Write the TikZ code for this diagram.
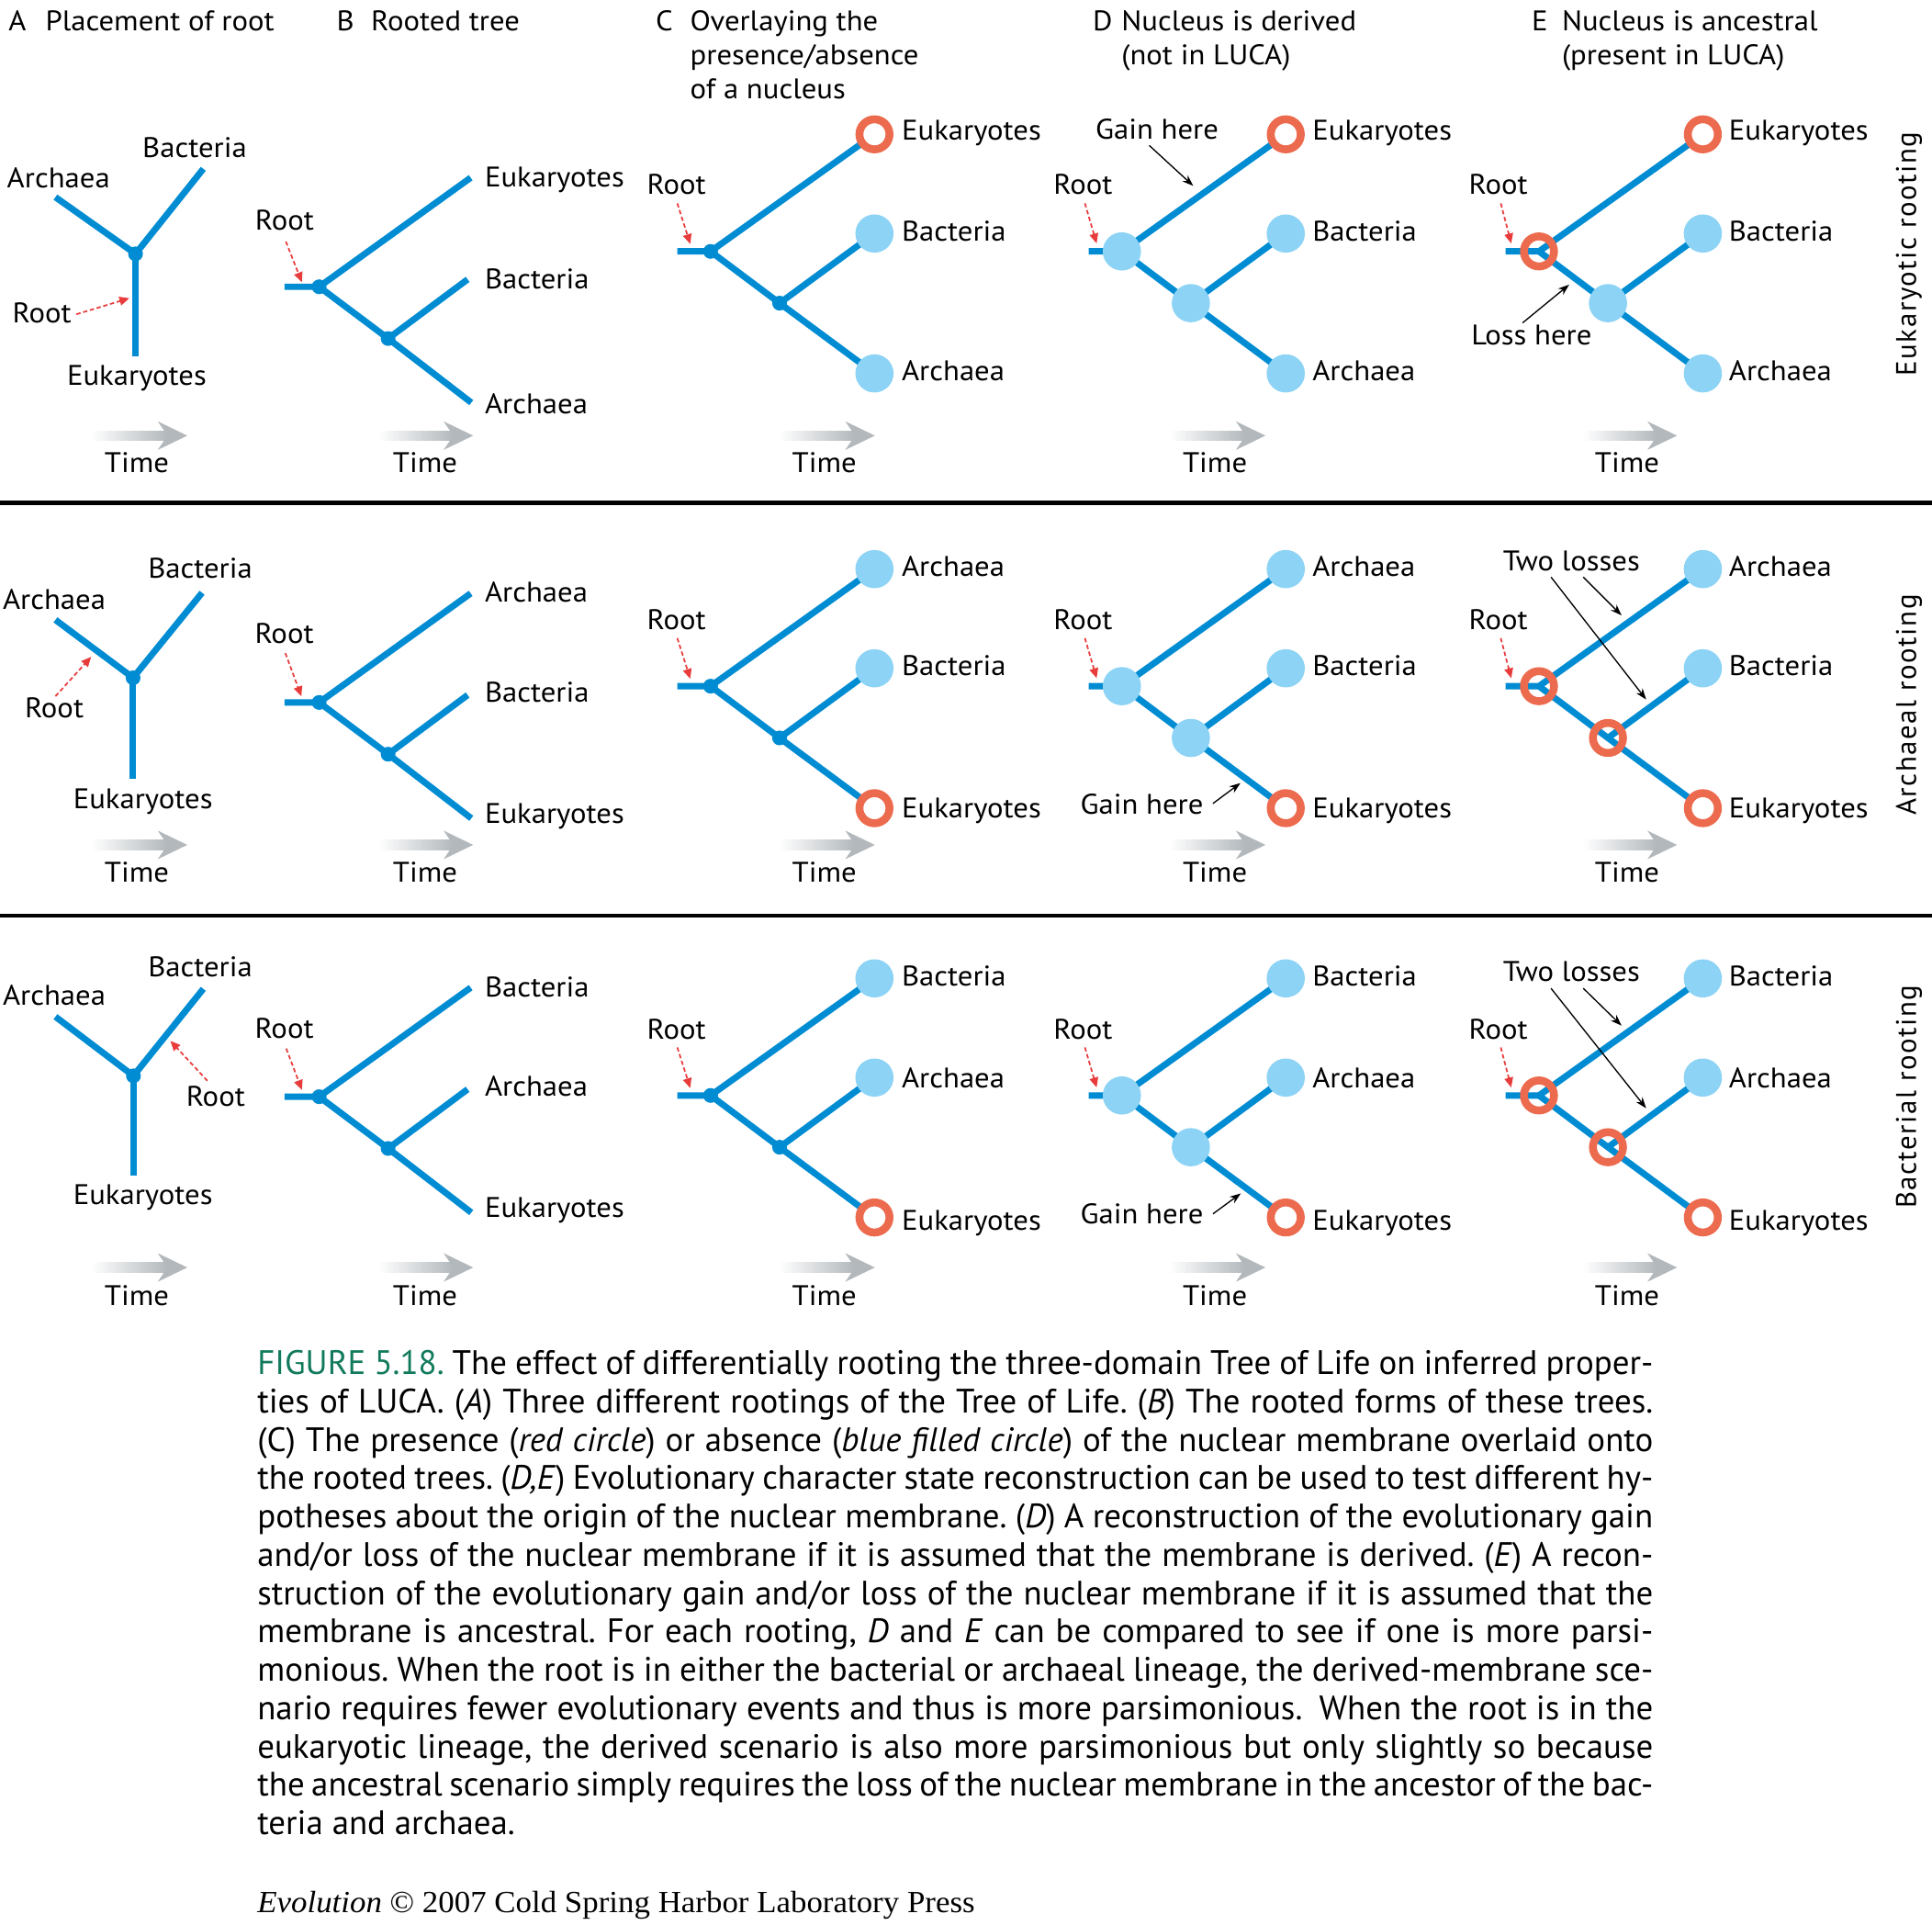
\documentclass[tikz,border=0pt]{standalone}
\usepackage{fontspec}
\setmainfont{PT Sans}
\newfontfamily\capfont{PT Sans}
\newfontfamily\lblfam{PT Sans}[FakeStretch=1.06]
\newfontfamily\rotfam{PT Sans}[LetterSpace=5]
\newfontfamily\footfont{Liberation Serif}[FakeStretch=1.04]
\usetikzlibrary{arrows.meta}
\definecolor{branch}{RGB}{0,140,210}
\definecolor{leaf}{RGB}{140,211,245}
\definecolor{ring}{RGB}{236,106,78}
\definecolor{rootred}{RGB}{232,60,60}
\definecolor{timegrey}{RGB}{178,184,188}
\definecolor{figgreen}{RGB}{18,122,92}
\newcommand\lblfont{\lblfam\fontsize{23}{27}\selectfont}
\newcommand\capfnt{\capfont\fontsize{27.5}{31}\selectfont\frenchspacing}
\newcommand\rotfnt{\rotfam\fontsize{23}{27}\selectfont}
\tikzset{
 br/.style={draw=branch, line width=5.2pt, line join=round},
 lbl/.style={font=\lblfont, inner sep=0pt, anchor=base west},
 lblc/.style={font=\lblfont, inner sep=0pt, anchor=base},
 rootarr/.style={draw=rootred, line width=1.3pt, dash pattern=on 3.5pt off 2.2pt, -{Triangle[length=8pt,width=7pt]}},
 evarr/.style={draw=black, line width=1pt, -{Stealth[length=9pt,width=6.5pt]}},
 capl/.style={font=\capfnt, inner sep=0pt, anchor=base west},
 rotl/.style={font=\rotfnt, inner sep=0pt, anchor=base, rotate=90},
 rule/.style={draw=black, line width=3.5pt}
}
\newcommand{\jdot}[1]{\fill[branch] (#1) circle[radius=6pt];}
\newcommand{\leafc}[1]{\fill[leaf] (#1) circle[radius=15.5pt];}
\newcommand{\ringw}[1]{\draw[ring, line width=6.4pt, fill=white] (#1) circle[radius=12.2pt];}
\newcommand{\ringo}[1]{\draw[ring, line width=6.4pt] (#1) circle[radius=12.2pt];}
\newcommand{\treeB}[2]{%
  \coordinate (#1s) at (231,#2);
  \coordinate (#1r) at (259,#2);
  \coordinate (#1j) at (315,#2+42);
  \coordinate (#1t) at (382,#2-88.5);
  \coordinate (#1m) at (379.5,#2-6);
  \coordinate (#1b) at (382.5,#2+94);
  \draw[br] (#1s) -- (#1r) -- (#1t);
  \draw[br] (#1r) -- (#1j) -- (#1b);
  \draw[br] (#1j) -- (#1m);
  \jdot{#1r}\jdot{#1j}}
\newcommand{\treeX}[3]{%
  \coordinate (#1s) at (#2-27,#3);
  \coordinate (#1r) at (#2,#3);
  \coordinate (#1j) at (#2+56,#3+42);
  \coordinate (#1t) at (#2+133,#3-95);
  \coordinate (#1m) at (#2+133,#3-14.5);
  \coordinate (#1b) at (#2+133,#3+99);
  \draw[br] (#1s) -- (#1r) -- (#1t);
  \draw[br] (#1r) -- (#1j) -- (#1b);
  \draw[br] (#1j) -- (#1m);}
\newcommand{\labs}[8]{%
  \node[lbl] (#1T) at (#2,#3) {#6};
  \node[lbl] (#1M) at (#2,#4) {#7};
  \node[lbl] (#1B) at (#2,#5) {#8};}
\newcommand{\rootlab}[7]{%
  \node[lblc] (#1) at (#2,#3) {Root};
  \coordinate (#1p) at (#4,#5);
  \coordinate (#1q) at (#6,#7);
  \draw[rootarr] (#1p) -- (#1q);}
\newcommand{\timearr}[3]{%
  \shade[left color=white, right color=timegrey] (#1,#3-3.8) rectangle (#2-16,#3+3.8);
  \fill[timegrey] (#2,#3) -- (#2-24,#3-11.6) -- (#2-16,#3) -- (#2-24,#3+11.6) -- cycle;}
\newcommand{\capline}[3]{\node[capl] (#1) at (208.7,#2) {\makebox[1132.8pt][s]{#3}};}
\begin{document}
\begin{tikzpicture}[x=1pt,y=-1pt]
\useasboundingbox (0,0) rectangle (1568,1562);
\fill[white] (0,0) rectangle (1568,1562);

% rules
\coordinate (rl1) at (0,408); \coordinate (rr1) at (1568,408);
\coordinate (rl2) at (0,743); \coordinate (rr2) at (1568,743);
\draw[rule] (rl1) -- (rr1);
\draw[rule] (rl2) -- (rr2);

% headings
\node[lbl] (hA) at (6.7,25) {A};
\node[lbl] (hAt) at (36.7,25) {Placement of root};
\node[lbl] (hB) at (273,25) {B};
\node[lbl] (hBt) at (301,25) {Rooted tree};
\node[lbl] (hC) at (532,25) {C};
\node[lbl] (hCt1) at (560,25) {Overlaying the};
\node[lbl] (hCt2) at (560,52.7) {presence/absence};
\node[lbl] (hCt3) at (560,80.4) {of a nucleus};
\node[lbl] (hD) at (886.7,25) {D};
\node[lbl] (hDt1) at (910,25) {Nucleus is derived};
\node[lbl] (hDt2) at (910,52.7) {(not in LUCA)};
\node[lbl] (hE) at (1243,25) {E};
\node[lbl] (hEt1) at (1267.5,25) {Nucleus is ancestral};
\node[lbl] (hEt2) at (1267.5,52.7) {(present in LUCA)};

% ---------- Panel A trees ----------
\coordinate (a1j) at (110,206); \coordinate (a1a) at (45,160);
\coordinate (a1b) at (165,137); \coordinate (a1e) at (110,289);
\draw[br] (a1a) -- (a1j) -- (a1b); \draw[br] (a1j) -- (a1e); \jdot{a1j}
\coordinate (a2j) at (108,550); \coordinate (a2a) at (45,503);
\coordinate (a2b) at (164,481); \coordinate (a2e) at (108,632);
\draw[br] (a2a) -- (a2j) -- (a2b); \draw[br] (a2j) -- (a2e); \jdot{a2j}
\coordinate (a3j) at (108.3,873); \coordinate (a3a) at (45,825);
\coordinate (a3b) at (165,802.4); \coordinate (a3e) at (108.3,954);
\draw[br] (a3a) -- (a3j) -- (a3b); \draw[br] (a3j) -- (a3e); \jdot{a3j}

\node[lblc] (La1b) at (158,127.5) {Bacteria};
\node[lblc] (La1a) at (47.5,152.5) {Archaea};
\node[lblc] (La1e) at (111,312.5) {Eukaryotes};
\node[lblc] (La2b) at (162.5,469.5) {Bacteria};
\node[lblc] (La2a) at (44,494.4) {Archaea};
\node[lblc] (La2e) at (116,656) {Eukaryotes};
\node[lblc] (La3b) at (162.5,792.5) {Bacteria};
\node[lblc] (La3a) at (44,816) {Archaea};
\node[lblc] (La3e) at (116,977.6) {Eukaryotes};

\rootlab{ra1}{34}{262}{62}{255}{105}{242}
\rootlab{ra2}{44}{582.5}{45}{565}{74}{533}
\rootlab{ra3}{175}{898}{168.3}{877}{138.3}{844.6}

% ---------- Panel B ----------
\treeB{b1}{232.7}
\treeB{b2}{570}
\treeB{b3}{889.9}
\labs{Lb1}{393.3}{151.8}{234.5}{336.1}{Eukaryotes}{Bacteria}{Archaea}
\labs{Lb2}{393.3}{488.7}{570.1}{668.3}{Archaea}{Bacteria}{Eukaryotes}
\labs{Lb3}{393.3}{808.7}{889.4}{987.5}{Bacteria}{Archaea}{Eukaryotes}
\rootlab{rb1}{231}{186.5}{232}{196}{245}{229}
\rootlab{rb2}{230.7}{522.2}{231.6}{530}{244.6}{565}
\rootlab{rb3}{230.7}{842.2}{232.3}{850.8}{245}{884.4}

% ---------- Panel C ----------
\treeX{c1}{576.7}{204} \jdot{c1r}\jdot{c1j}\ringw{c1t}\leafc{c1m}\leafc{c1b}
\treeX{c2}{576.7}{556.8} \jdot{c2r}\jdot{c2j}\leafc{c2t}\leafc{c2m}\ringw{c2b}
\treeX{c3}{576.7}{888.9} \jdot{c3r}\jdot{c3j}\leafc{c3t}\leafc{c3m}\ringw{c3b}
\labs{Lc1}{731.7}{113.5}{195.5}{309}{Eukaryotes}{Bacteria}{Archaea}
\labs{Lc2}{731.7}{468}{548}{664}{Archaea}{Bacteria}{Eukaryotes}
\labs{Lc3}{731.7}{800}{882.5}{998.5}{Bacteria}{Archaea}{Eukaryotes}
\rootlab{rc1}{549}{157.5}{549.7}{165}{560.2}{198}
\rootlab{rc2}{549}{510.5}{549.7}{517.8}{560.2}{550.8}
\rootlab{rc3}{549}{843.5}{549.7}{849.9}{560.2}{882.9}

% ---------- Panel D ----------
\treeX{d1}{910.5}{204} \leafc{d1r}\leafc{d1j}\ringw{d1t}\leafc{d1m}\leafc{d1b}
\treeX{d2}{910.5}{556.8} \leafc{d2r}\leafc{d2j}\leafc{d2t}\leafc{d2m}\ringw{d2b}
\treeX{d3}{910.5}{888.9} \leafc{d3r}\leafc{d3j}\leafc{d3t}\leafc{d3m}\ringw{d3b}
\labs{Ld1}{1065}{113.5}{195.5}{309}{Eukaryotes}{Bacteria}{Archaea}
\labs{Ld2}{1065}{468}{548}{664}{Archaea}{Bacteria}{Eukaryotes}
\labs{Ld3}{1065}{800}{882.5}{998.5}{Bacteria}{Archaea}{Eukaryotes}
\rootlab{rd1}{879}{157.5}{880.5}{165}{890}{197.5}
\rootlab{rd2}{879}{510.5}{880.5}{517.8}{890}{550.3}
\rootlab{rd3}{879}{843.5}{880.5}{849.9}{890}{882.4}
\node[lblc] (gain1) at (939,113.2) {Gain here};
\coordinate (g1p) at (932.7,118); \coordinate (g1q) at (968.4,150.8);
\draw[evarr] (g1p) -- (g1q);
\node[lblc] (gain2) at (926.7,660.8) {Gain here};
\coordinate (g2p) at (984.4,652); \coordinate (g2q) at (1006.7,635.4);
\draw[evarr] (g2p) -- (g2q);
\node[lblc] (gain3) at (926.7,993.3) {Gain here};
\coordinate (g3p) at (984.4,985); \coordinate (g3q) at (1007,968.4);
\draw[evarr] (g3p) -- (g3q);

% ---------- Panel E ----------
\treeX{e1}{1249}{204} \ringo{e1r}\leafc{e1j}\ringw{e1t}\leafc{e1m}\leafc{e1b}
\treeX{e2}{1249}{556.8} \ringo{e2r}\ringo{e2j}\leafc{e2t}\leafc{e2m}\ringw{e2b}
\treeX{e3}{1249}{888.9} \ringo{e3r}\ringo{e3j}\leafc{e3t}\leafc{e3m}\ringw{e3b}
\labs{Le1}{1403}{113.5}{195.5}{309}{Eukaryotes}{Bacteria}{Archaea}
\labs{Le2}{1403}{468}{548}{664}{Archaea}{Bacteria}{Eukaryotes}
\labs{Le3}{1403}{800}{882.5}{998.5}{Bacteria}{Archaea}{Eukaryotes}
\rootlab{re1}{1216}{157.5}{1218}{165}{1226.5}{197.5}
\rootlab{re2}{1216}{510.5}{1218}{517.8}{1226.5}{550.3}
\rootlab{re3}{1216}{843.5}{1218}{849.9}{1226.5}{882.4}
\node[lblc] (loss1) at (1243,279.5) {Loss here};
\coordinate (l1p) at (1235.7,262); \coordinate (l1q) at (1273.5,231);
\draw[evarr] (l1p) -- (l1q);
\node[lblc] (two2) at (1275.4,463.4) {Two losses};
\coordinate (t2p) at (1285,468.3); \coordinate (t2q) at (1316,499.3);
\coordinate (t2r) at (1258.8,468.3); \coordinate (t2s) at (1336,567.6);
\draw[evarr] (t2p) -- (t2q); \draw[evarr] (t2r) -- (t2s);
\node[lblc] (two3) at (1275.4,796.5) {Two losses};
\coordinate (t3p) at (1285,802); \coordinate (t3q) at (1316,832.2);
\coordinate (t3r) at (1258.8,802); \coordinate (t3s) at (1336,899.3);
\draw[evarr] (t3p) -- (t3q); \draw[evarr] (t3r) -- (t3s);

% rotated row labels
\node[rotl] (rowE) at (1555,206) {Eukaryotic rooting};
\node[rotl] (rowA) at (1555,572) {Archaeal rooting};
\node[rotl] (rowB) at (1555,890) {Bacterial rooting};

% time arrows
\foreach \yy/\ty [count=\r] in {353.5/383.5, 685.6/716, 1028.5/1059.5}{
  \timearr{74}{152}{\yy} \timearr{307}{384}{\yy} \timearr{632}{710}{\yy}
  \timearr{949}{1027}{\yy} \timearr{1285}{1361}{\yy}
  \node[lblc] (tA\r) at (111,\ty) {Time};
  \node[lblc] (tB\r) at (345,\ty) {Time};
  \node[lblc] (tC\r) at (669,\ty) {Time};
  \node[lblc] (tD\r) at (986,\ty) {Time};
  \node[lblc] (tE\r) at (1320.5,\ty) {Time};
}

% caption
\capline{cap1}{1115.4}{\textcolor{figgreen}{FIGURE 5.18.} The effect of differentially rooting the three-domain Tree of Life on inferred proper-}
\capline{cap2}{1146.5}{ties of LUCA. (\textit{A}) Three different rootings of the Tree of Life. (\textit{B}) The rooted forms of these trees.}
\capline{cap3}{1177.6}{(C) The presence (\textit{red circle}) or absence (\textit{blue filled circle}) of the nuclear membrane overlaid onto}
\capline{cap4}{1208.7}{the rooted trees. (\textit{D,E}) Evolutionary character state reconstruction can be used to test different hy-}
\capline{cap5}{1239.8}{potheses about the origin of the nuclear membrane. (\textit{D}) A reconstruction of the evolutionary gain}
\capline{cap6}{1270.9}{and/or loss of the nuclear membrane if it is assumed that the membrane is derived. (\textit{E}) A recon-}
\capline{cap7}{1302.0}{struction of the evolutionary gain and/or loss of the nuclear membrane if it is assumed that the}
\capline{cap8}{1333.1}{membrane is ancestral. For each rooting, \textit{D} and \textit{E} can be compared to see if one is more parsi-}
\capline{cap9}{1364.2}{monious. When the root is in either the bacterial or archaeal lineage, the derived-membrane sce-}
\capline{cap10}{1395.3}{nario requires fewer evolutionary events and thus is more parsimonious.\hspace{6pt} When the root is in the}
\capline{cap11}{1426.4}{eukaryotic lineage, the derived scenario is also more parsimonious but only slightly so because}
\capline{cap12}{1457.5}{the ancestral scenario simply requires the loss of the nuclear membrane in the ancestor of the bac-}
\node[capl] (cap13) at (208.7,1488.6) {teria and archaea.};

% footer
\node[anchor=base west, inner sep=0pt, font=\footfont\fontsize{25}{30}\selectfont] (foot) at (208.7,1552) {\textit{Evolution} © 2007 Cold Spring Harbor Laboratory Press};
\end{tikzpicture}
\end{document}
